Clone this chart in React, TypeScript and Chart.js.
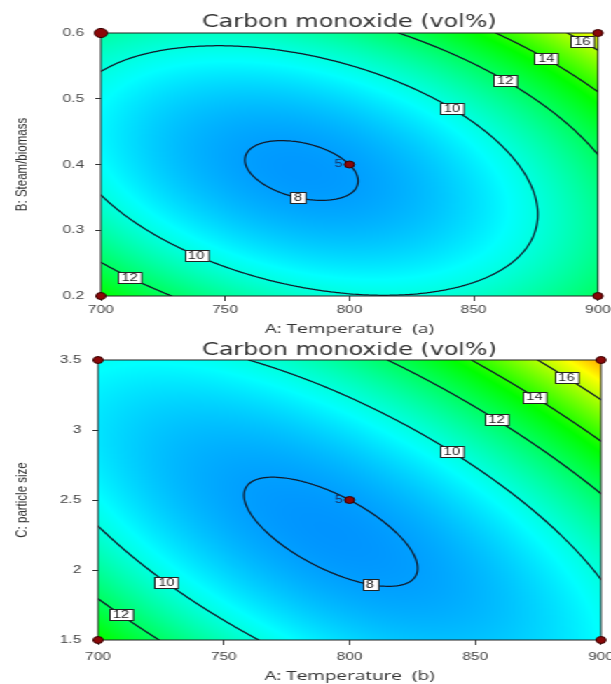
import React, { useEffect, useRef } from 'react';
import { Chart, registerables } from 'chart.js';

Chart.register(...registerables);

// Axis ticks
const TEMPERATURE_TICKS = [700, 750, 800, 850, 900];
const STEAM_TICKS = [0.2, 0.3, 0.4, 0.5, 0.6];
const SIZE_TICKS = [1.5, 2, 2.5, 3, 3.5];

// Factor centre points and half-ranges (A: temperature, B: steam/biomass, C: particle size)
const FACTOR_CENTER = [800, 0.4, 2.5];
const FACTOR_HALF_RANGE = [100, 0.2, 1];

// Fitted quadratic model for CO (vol%) in coded factors
const MODEL_INTERCEPT = 8.0;
const MODEL_LINEAR = [1.12, 0.61, 1.19]; // A, B, C
const MODEL_INTERACTION = [1.89, 3.17]; // AB, AC
const MODEL_QUADRATIC = [2.68, 2.69, 2.1]; // A², B², C²

const CONTOUR_LEVELS = [8, 10, 12, 14, 16];

// Design points (factorial corners + centre)
const DESIGN_TEMPERATURE = [700, 700, 900, 900, 800];
const DESIGN_STEAM = [0.2, 0.6, 0.2, 0.6, 0.4];
const DESIGN_SIZE = [1.5, 3.5, 1.5, 3.5, 2.5];
const CENTER_REPLICATES = 5;

// Contour label anchors (level, temperature, second factor)
const STEAM_LABEL_LEVELS = [8, 10, 10, 12, 12, 14, 16];
const STEAM_LABEL_TEMPERATURE = [780, 842.5, 739.4, 863.8, 712.9, 879.5, 894.4];
const STEAM_LABEL_STEAM = [0.354, 0.4875, 0.267, 0.53, 0.2335, 0.5635, 0.591];
const SIZE_LABEL_LEVELS = [8, 10, 10, 12, 12, 14, 16];
const SIZE_LABEL_TEMPERATURE = [808.8, 842.6, 728.6, 860.5, 710.1, 875.1, 888.3];
const SIZE_LABEL_SIZE = [1.948, 2.869, 1.924, 3.095, 1.69, 3.266, 3.41];

// Colour ramp: blue -> cyan -> green -> yellow -> red, anchored at response values
const COLOR_STOP_VALUES = [5.5, 9.5, 13.5, 17, 20.5];
const COLOR_STOPS = [
  [0, 0, 255],
  [0, 255, 255],
  [0, 255, 0],
  [255, 255, 0],
  [255, 0, 0],
];

const CANVAS_W = 436;
const CANVAS_H = 342;
const STRETCH = 611 / CANVAS_W;

function carbonMonoxide(temp: number, steam: number, size: number): number {
  const a = (temp - FACTOR_CENTER[0]) / FACTOR_HALF_RANGE[0];
  const b = (steam - FACTOR_CENTER[1]) / FACTOR_HALF_RANGE[1];
  const c = (size - FACTOR_CENTER[2]) / FACTOR_HALF_RANGE[2];
  return (
    MODEL_INTERCEPT +
    MODEL_LINEAR[0] * a +
    MODEL_LINEAR[1] * b +
    MODEL_LINEAR[2] * c +
    MODEL_INTERACTION[0] * a * b +
    MODEL_INTERACTION[1] * a * c +
    MODEL_QUADRATIC[0] * a * a +
    MODEL_QUADRATIC[1] * b * b +
    MODEL_QUADRATIC[2] * c * c
  );
}

function rampColor(v: number): number[] {
  const vs = COLOR_STOP_VALUES;
  if (v <= vs[0]) return COLOR_STOPS[0];
  if (v >= vs[vs.length - 1]) return COLOR_STOPS[vs.length - 1];
  let k = 0;
  while (k < vs.length - 2 && v > vs[k + 1]) k++;
  const f = (v - vs[k]) / (vs[k + 1] - vs[k]);
  const c0 = COLOR_STOPS[k];
  const c1 = COLOR_STOPS[k + 1];
  return [c0[0] + (c1[0] - c0[0]) * f, c0[1] + (c1[1] - c0[1]) * f, c0[2] + (c1[2] - c0[2]) * f];
}

type Seg = [number, number, number, number];

// Marching squares over the factor space
function contourSegments(
  f: (x: number, y: number) => number,
  xr: number[],
  yr: number[],
  n: number,
  level: number
): Seg[] {
  const g: number[] = [];
  const xs: number[] = [];
  const ys: number[] = [];
  for (let i = 0; i <= n; i++) xs.push(xr[0] + ((xr[1] - xr[0]) * i) / n);
  for (let j = 0; j <= n; j++) ys.push(yr[0] + ((yr[1] - yr[0]) * j) / n);
  for (let j = 0; j <= n; j++) for (let i = 0; i <= n; i++) g.push(f(xs[i], ys[j]));
  const segs: Seg[] = [];
  for (let j = 0; j < n; j++) {
    for (let i = 0; i < n; i++) {
      const p = [
        [xs[i], ys[j], g[j * (n + 1) + i]],
        [xs[i + 1], ys[j], g[j * (n + 1) + i + 1]],
        [xs[i + 1], ys[j + 1], g[(j + 1) * (n + 1) + i + 1]],
        [xs[i], ys[j + 1], g[(j + 1) * (n + 1) + i]],
      ];
      const pts: number[][] = [];
      for (let k = 0; k < 4; k++) {
        const A = p[k];
        const B = p[(k + 1) % 4];
        if ((A[2] - level) * (B[2] - level) < 0) {
          const t = (level - A[2]) / (B[2] - A[2]);
          pts.push([A[0] + t * (B[0] - A[0]), A[1] + t * (B[1] - A[1])]);
        }
      }
      if (pts.length >= 2) segs.push([pts[0][0], pts[0][1], pts[1][0], pts[1][1]]);
      if (pts.length === 4) segs.push([pts[2][0], pts[2][1], pts[3][0], pts[3][1]]);
    }
  }
  return segs;
}

type Panel = {
  title: string;
  xTitle: string;
  yTitle: string;
  yTicks: number[];
  yRange: number[];
  yCenter: number;
  response: (temp: number, y: number) => number;
  designY: number[];
  pointRadius: number[];
  labelLevels: number[];
  labelTemps: number[];
  labelYs: number[];
  yAxisWidth: number;
  rightPad: number;
  xAxisHeight: number;
  titlePad: { top: number; bottom: number };
  xTitleBottom: number;
  xTickPad: number;
};

const PANELS: Panel[] = [
  {
    title: 'Carbon monoxide (vol%)',
    xTitle: 'A: Temperature  (a)',
    yTitle: 'B: Steam/biomass',
    yTicks: STEAM_TICKS,
    yRange: [STEAM_TICKS[0], STEAM_TICKS[STEAM_TICKS.length - 1]],
    yCenter: FACTOR_CENTER[1],
    response: (t, y) => carbonMonoxide(t, y, FACTOR_CENTER[2]),
    designY: DESIGN_STEAM,
    pointRadius: [3.5, 4.6, 3.5, 3.5, 3.5],
    labelLevels: STEAM_LABEL_LEVELS,
    labelTemps: STEAM_LABEL_TEMPERATURE,
    labelYs: STEAM_LABEL_STEAM,
    yAxisWidth: 72,
    rightPad: 9.3,
    xAxisHeight: 46,
    titlePad: { top: 14, bottom: 2 },
    xTitleBottom: 5,
    xTickPad: 2,
  },
  {
    title: 'Carbon monoxide (vol%)',
    xTitle: 'A: Temperature  (b)',
    yTitle: 'C: particle size',
    yTicks: SIZE_TICKS,
    yRange: [SIZE_TICKS[0], SIZE_TICKS[SIZE_TICKS.length - 1]],
    yCenter: FACTOR_CENTER[2],
    response: (t, y) => carbonMonoxide(t, FACTOR_CENTER[1], y),
    designY: DESIGN_SIZE,
    pointRadius: [3.5, 3.5, 3.5, 3.5, 3.5],
    labelLevels: SIZE_LABEL_LEVELS,
    labelTemps: SIZE_LABEL_TEMPERATURE,
    labelYs: SIZE_LABEL_SIZE,
    yAxisWidth: 70,
    rightPad: 7.1,
    xAxisHeight: 44,
    titlePad: { top: 0, bottom: 1 },
    xTitleBottom: 0,
    xTickPad: 5,
  },
];

function surfacePlugin(panel: Panel) {
  return {
    id: 'coSurface',
    beforeDatasetsDraw(chart: any) {
      const { ctx, chartArea: ca, scales } = chart;
      const xs = scales.x;
      const ys = scales.y;
      const cw = ca.right - ca.left;
      const chh = ca.bottom - ca.top;
      const w = Math.round(cw);
      const h = Math.round(chh);

      // filled response surface
      const off = document.createElement('canvas');
      off.width = w;
      off.height = h;
      const octx = off.getContext('2d')!;
      const img = octx.createImageData(w, h);
      for (let py = 0; py < h; py++) {
        const yv = ys.getValueForPixel(ca.top + ((py + 0.5) * chh) / h);
        for (let px = 0; px < w; px++) {
          const xv = xs.getValueForPixel(ca.left + ((px + 0.5) * cw) / w);
          const c = rampColor(panel.response(xv, yv));
          const o = (py * w + px) * 4;
          img.data[o] = c[0];
          img.data[o + 1] = c[1];
          img.data[o + 2] = c[2];
          img.data[o + 3] = 255;
        }
      }
      octx.putImageData(img, 0, 0);
      ctx.save();
      ctx.drawImage(off, ca.left, ca.top, cw, chh);

      // contour lines
      const xr = [TEMPERATURE_TICKS[0], TEMPERATURE_TICKS[TEMPERATURE_TICKS.length - 1]];
      const pixelSegs: Record<number, Seg[]> = {};
      ctx.beginPath();
      ctx.rect(ca.left, ca.top, cw, chh);
      ctx.clip();
      ctx.strokeStyle = '#111a2a';
      ctx.lineWidth = 1.25;
      ctx.lineCap = 'round';
      ctx.lineJoin = 'round';
      ctx.beginPath();
      for (const level of CONTOUR_LEVELS) {
        const segs = contourSegments(panel.response, xr, panel.yRange, 160, level);
        const ps: Seg[] = segs.map((s) => [
          xs.getPixelForValue(s[0]),
          ys.getPixelForValue(s[1]),
          xs.getPixelForValue(s[2]),
          ys.getPixelForValue(s[3]),
        ]);
        pixelSegs[level] = ps;
        for (const s of ps) {
          ctx.moveTo(s[0], s[1]);
          ctx.lineTo(s[2], s[3]);
        }
      }
      ctx.stroke();
      ctx.restore();

      // plot frame
      ctx.save();
      ctx.strokeStyle = '#222';
      ctx.lineWidth = 1;
      ctx.strokeRect(ca.left, ca.top, cw, chh);
      ctx.restore();

      // contour value labels
      ctx.save();
      ctx.font = '10.5px "Liberation Sans", Arial, sans-serif';
      ctx.textAlign = 'center';
      ctx.textBaseline = 'middle';
      panel.labelLevels.forEach((level, i) => {
        const tx = xs.getPixelForValue(panel.labelTemps[i]);
        const ty = ys.getPixelForValue(panel.labelYs[i]);
        let best: number[] = [tx, ty];
        let bestD = Infinity;
        for (const s of pixelSegs[level] || []) {
          const mx = (s[0] + s[2]) / 2;
          const my = (s[1] + s[3]) / 2;
          const d = (mx - tx) ** 2 + (my - ty) ** 2;
          if (d < bestD) {
            bestD = d;
            best = [mx, my];
          }
        }
        const text = String(level);
        const tw = ctx.measureText(text).width;
        const bw = tw + 5;
        const bh = 11;
        const bx = Math.round(best[0] - bw / 2) + 0.5;
        const by = Math.round(best[1] - bh / 2) + 0.5;
        ctx.fillStyle = '#ffffff';
        ctx.fillRect(bx, by, bw, bh);
        ctx.strokeStyle = '#222';
        ctx.lineWidth = 1;
        ctx.strokeRect(bx, by, bw, bh);
        ctx.fillStyle = '#222';
        ctx.fillText(text, best[0], best[1] + 0.5);
      });
      ctx.restore();
    },
    afterDatasetsDraw(chart: any) {
      const { ctx, scales } = chart;
      const px = scales.x.getPixelForValue(FACTOR_CENTER[0]);
      const py = scales.y.getPixelForValue(panel.yCenter);
      ctx.save();
      ctx.font = '10px "Liberation Sans", Arial, sans-serif';
      ctx.fillStyle = '#1b2b5b';
      ctx.textAlign = 'right';
      ctx.textBaseline = 'middle';
      ctx.fillText(String(CENTER_REPLICATES), px - 5, py);
      ctx.restore();
    },
  };
}

function ContourPanel({ panel }: { panel: Panel }) {
  const ref = useRef<HTMLCanvasElement>(null);
  useEffect(() => {
    const canvas = ref.current;
    if (!canvas) return;
    const tickFont = { family: '"Liberation Sans", Arial, sans-serif', size: 11 };
    const chart = new Chart(canvas, {
      type: 'scatter',
      data: {
        datasets: [
          {
            data: DESIGN_TEMPERATURE.map((x, i) => ({ x, y: panel.designY[i] })),
            pointRadius: panel.pointRadius,
            pointBackgroundColor: '#8a0808',
            pointBorderColor: '#360000',
            pointBorderWidth: 1,
            clip: false,
          } as any,
        ],
      },
      options: {
        responsive: false,
        animation: false,
        devicePixelRatio: 1,
        events: [],
        layout: { padding: { left: 0, right: panel.rightPad, top: 0, bottom: 0 } },
        plugins: {
          legend: { display: false },
          tooltip: { enabled: false },
          title: {
            display: true,
            text: panel.title,
            fullSize: false,
            color: '#333',
            font: { family: '"DejaVu Sans", sans-serif', size: 17, weight: 'normal', lineHeight: 1 },
            padding: panel.titlePad,
          },
        },
        scales: {
          x: {
            type: 'linear',
            min: TEMPERATURE_TICKS[0],
            max: TEMPERATURE_TICKS[TEMPERATURE_TICKS.length - 1],
            afterBuildTicks: (s: any) => {
              s.ticks = TEMPERATURE_TICKS.map((value) => ({ value }));
            },
            afterFit: (s: any) => {
              s.height = panel.xAxisHeight;
              s.paddingLeft = 0;
              s.paddingRight = 0;
            },
            ticks: {
              font: tickFont,
              color: '#444',
              padding: panel.xTickPad,
              autoSkip: false,
              maxRotation: 0,
              callback: (v: any) => String(v),
            },
            grid: { drawOnChartArea: false, drawTicks: true, tickLength: 5, color: '#333', lineWidth: 1 },
            border: { display: false },
            title: {
              display: true,
              text: panel.xTitle,
              color: '#333',
              font: { family: '"Open Sans", sans-serif', size: 13.5, lineHeight: 1.2 },
              padding: { top: 0, bottom: panel.xTitleBottom },
            },
          },
          y: {
            type: 'linear',
            min: panel.yRange[0],
            max: panel.yRange[1],
            afterBuildTicks: (s: any) => {
              s.ticks = panel.yTicks.map((value) => ({ value }));
            },
            afterFit: (s: any) => {
              s.width = panel.yAxisWidth;
              s.paddingTop = 0;
              s.paddingBottom = 0;
            },
            ticks: {
              font: tickFont,
              color: '#444',
              padding: 8,
              autoSkip: false,
              callback: (v: any) => String(v),
            },
            grid: { drawOnChartArea: false, drawTicks: true, tickLength: 4, color: '#333', lineWidth: 1 },
            border: { display: false },
            title: {
              display: true,
              text: panel.yTitle,
              color: '#333',
              font: { family: '"Liberation Sans", Arial, sans-serif', size: 11.5, lineHeight: 1.2 },
              padding: { top: 8.5, bottom: 0 },
            },
          },
        },
      } as any,
      plugins: [surfacePlugin(panel) as any],
    });
    return () => chart.destroy();
  }, [panel]);
  return (
    <div style={{ position: 'relative', width: CANVAS_W, height: CANVAS_H }}>
      <canvas ref={ref} width={CANVAS_W} height={CANVAS_H} style={{ display: 'block' }} />
    </div>
  );
}

export default function App() {
  return (
    <div
      style={{
        position: 'absolute',
        left: 0,
        top: 0,
        width: CANVAS_W,
        height: CANVAS_H * 2,
        background: '#ffffff',
        transform: `scaleX(${STRETCH})`,
        transformOrigin: '0 0',
      }}
    >
      {PANELS.map((p, i) => (
        <ContourPanel key={i} panel={p} />
      ))}
    </div>
  );
}
